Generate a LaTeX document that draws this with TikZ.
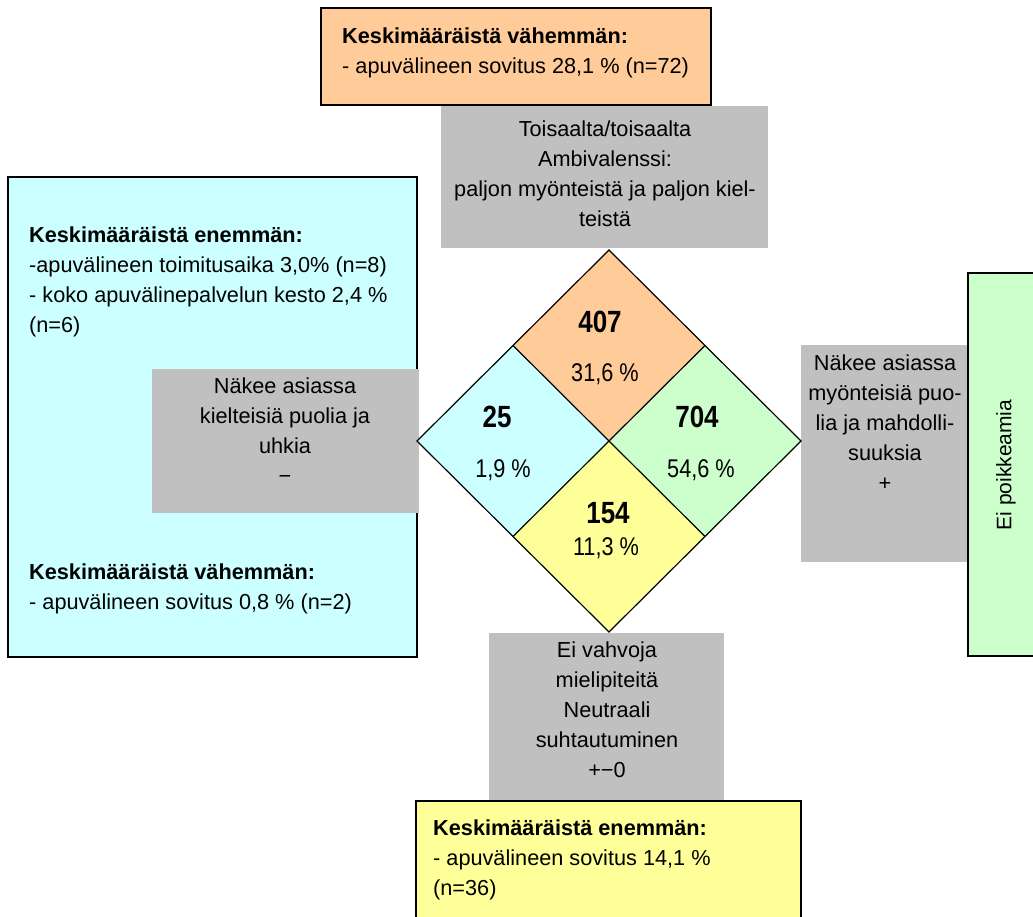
\documentclass[tikz,border=0pt]{standalone}
\usepackage{fontspec}
\setmainfont{Liberation Sans}
\definecolor{peach}{HTML}{FFCC99}
\definecolor{paleCyan}{HTML}{CCFFFF}
\definecolor{paleGreen}{HTML}{CCFFCC}
\definecolor{paleYellow}{HTML}{FFFF99}
\definecolor{panelGray}{HTML}{C0C0C0}
% a top-aligned block of lines: its baseline is that of the first line
\newcommand{\txtlines}[2]{\parbox[t]{#1}{#2}}
% tall, narrow figures used inside the diamond
\newcommand{\tallfig}[1]{\scalebox{1}[1.18]{#1}}
\begin{document}
\begin{tikzpicture}[x=1pt,y=-1pt,
  framebox/.style={draw=black,line width=2pt},
  graybox/.style={fill=panelGray},
  leftlines/.style={inner sep=0pt,anchor=base west,font=\fontsize{21.7}{30}\selectfont},
  midlines/.style={inner sep=0pt,anchor=base,font=\fontsize{21.7}{30}\selectfont},
  count/.style={inner sep=0pt,anchor=base,font=\fontsize{26}{30}\selectfont\bfseries},
  share/.style={inner sep=0pt,anchor=base,font=\fontsize{21.7}{30}\selectfont},
  quad/.style={draw=black,line width=1.2pt,line join=miter}]
\useasboundingbox (0,0) rectangle (1033,917);
\clip (0,0) rectangle (1033,917);
\fill[white] (0,0) rectangle (1033,917);

% framed result boxes
\draw[framebox,fill=paleCyan]   (8,177)   rectangle (417,657);
\draw[framebox,fill=peach]      (321,8)   rectangle (711,105);
\draw[framebox,fill=paleGreen]  (968,273) rectangle (1060,656);
\draw[framebox,fill=paleYellow] (416,801) rectangle (801,940);

% grey label panels
\fill[graybox] (441,106) rectangle (768,248);
\fill[graybox] (152,369) rectangle (418.5,513);
\fill[graybox] (801,345) rectangle (968,562);
\fill[graybox] (489,633) rectangle (724,800);
\draw[line width=2pt] (968,345) -- (968,562);

% four-field diamond
\coordinate (T) at (609,250);
\coordinate (L) at (417,441);
\coordinate (R) at (801,441);
\coordinate (B) at (609,632);
\coordinate (C) at (609,441);
\coordinate (TL) at (513,345.5);
\coordinate (TR) at (705,345.5);
\coordinate (BL) at (513,536.5);
\coordinate (BR) at (705,536.5);
\fill[peach]      (T) -- (TR) -- (C) -- (TL) -- cycle;
\fill[paleCyan]   (TL) -- (C) -- (BL) -- (L) -- cycle;
\fill[paleGreen]  (TR) -- (R) -- (BR) -- (C) -- cycle;
\fill[paleYellow] (C) -- (BR) -- (B) -- (BL) -- cycle;
\draw[quad] (T) -- (R) -- (B) -- (L) -- cycle;
\draw[quad] (TL) -- (BR);
\draw[quad] (TR) -- (BL);

% counts and shares
\node[count] (n407) at (600,332) {\tallfig{407}};
\node[share] (p407) at (605,381) {\tallfig{31,6 \%}};
\node[count] (n25)  at (497,427) {\tallfig{25}};
\node[share] (p25)  at (503,477) {\tallfig{1,9 \%}};
\node[count] (n704) at (697,427) {\tallfig{704}};
\node[share] (p704) at (701,477) {\tallfig{54,6 \%}};
\node[count] (n154) at (608,523) {\tallfig{154}};
\node[share] (p154) at (606,555) {\tallfig{11,3 \%}};

% texts of the framed boxes
\node[leftlines] (topnote) at (342,44) {\txtlines{400pt}{\textbf{Keskimääräistä vähemmän:}\\
- apuvälineen sovitus 28,1 \% (n=72)}};
\node[leftlines] (cyanmore) at (29,243) {\txtlines{400pt}{\textbf{Keskimääräistä enemmän:}\\
-apuvälineen toimitusaika 3,0\% (n=8)\\
- koko apuvälinepalvelun kesto 2,4 \%\\
(n=6)}};
\node[leftlines] (cyanless) at (29,579) {\txtlines{400pt}{\textbf{Keskimääräistä vähemmän:}\\
- apuvälineen sovitus 0,8 \% (n=2)}};
\node[leftlines] (yellownote) at (433,835) {\txtlines{400pt}{\textbf{Keskimääräistä enemmän:}\\
- apuvälineen sovitus 14,1 \%\\
(n=36)}};
\node[inner sep=0pt,rotate=90,font=\fontsize{21}{30}\selectfont] (nodev) at (1006,465) {Ei poikkeamia};

% texts of the grey panels
\node[midlines] (ambi) at (605,137) {\txtlines{330pt}{\centering Toisaalta/toisaalta\\
Ambivalenssi:\\
paljon myönteistä ja paljon kiel-\\
teistä}};
\node[midlines] (negative) at (285,393) {\txtlines{260pt}{\centering Näkee asiassa\\
kielteisiä puolia ja\\
uhkia\\
−}};
\node[midlines] (positive) at (885,370) {\txtlines{200pt}{\centering Näkee asiassa\\
myönteisiä puo-\\
lia ja mahdolli-\\
suuksia\\
+}};
\node[midlines] (neutral) at (607,657) {\txtlines{240pt}{\centering Ei vahvoja\\
mielipiteitä\\
Neutraali\\
suhtautuminen\\
+−0}};
\end{tikzpicture}
\end{document}
